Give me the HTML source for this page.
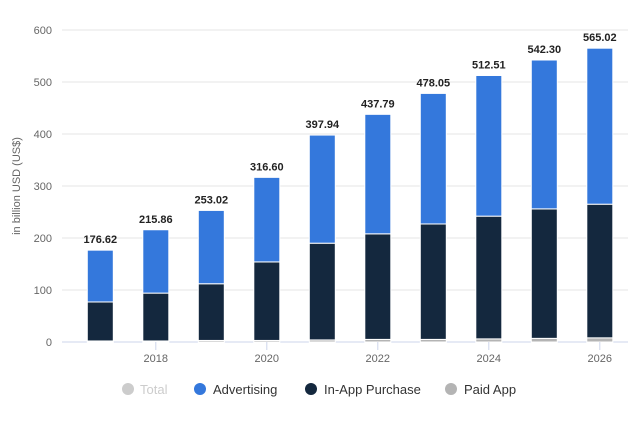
<!DOCTYPE html>
<html><head><meta charset="utf-8"><style>
html,body{margin:0;padding:0;background:#fff;}
svg{display:block;font-family:"Liberation Sans",sans-serif;}
</style></head><body>
<svg id="chart" width="644" height="432">
<g id="grid"></g>
<g id="ylabels"></g>
<text x="20" y="186" font-size="11" fill="#666" text-anchor="middle" transform="rotate(-90 20 186)">in billion USD (US$)</text>
<g id="bars"></g>
<g id="xlabels"></g>
<g id="totals"></g>
<g>
<g><circle cx="128" cy="389" r="6" fill="#ccc"/><text x="140" y="394" font-size="13" fill="#ccc">Total</text></g>
<g><circle cx="200" cy="389" r="6" fill="#3478dc"/><text x="213" y="394" font-size="13" fill="#333">Advertising</text></g>
<g><circle cx="311" cy="389" r="6" fill="#14283e"/><text x="324" y="394" font-size="13" fill="#333">In-App Purchase</text></g>
<g><circle cx="451" cy="389" r="6" fill="#b4b4b4"/><text x="464" y="394" font-size="13" fill="#333">Paid App</text></g>
</g>
</svg>
<script>
const years=[2017,2018,2019,2020,2021,2022,2023,2024,2025,2026];
const totals=[176.62,215.86,253.02,316.60,397.94,437.79,478.05,512.51,542.30,565.02];
const paidApp=[2,2,3,3,4,5,5,6,7,8];
const inApp=[75,92,109,151,186,203,222,236,249,257];
const yTicks=[0,100,200,300,400,500,600];
const xTickLabels=[2018,2020,2022,2024,2026];
const NS="http://www.w3.org/2000/svg";
const y0=342,yTop=30;
const yS=v=>y0-v*(y0-yTop)/600;
const xS=yr=>100.3+(yr-2017)*55.5;
const bw=26;
function mk(tag,attrs,parent){const e=document.createElementNS(NS,tag);for(const k in attrs)e.setAttribute(k,attrs[k]);parent.appendChild(e);return e;}
const grid=document.getElementById('grid'),yl=document.getElementById('ylabels');
yTicks.forEach(t=>{
 const l=mk('line',{x1:62,x2:628,y1:yS(t),y2:yS(t),stroke:t===0?'#ccd6eb':'#e6e6e6','stroke-width':1},grid);
 
 
 const tx=mk('text',{x:52,y:yS(t)+4,'font-size':11,fill:'#666','text-anchor':'end'},yl);
 tx.textContent=t;
 
 
});
const bars=document.getElementById('bars'),tot=document.getElementById('totals'),xl=document.getElementById('xlabels');
years.forEach((yr,i)=>{
 const cx=xS(yr),x=cx-bw/2;
 const segs=[[0,paidApp[i],'#b4b4b4','bar-paid-app'],[paidApp[i],paidApp[i]+inApp[i],'#14283e','bar-in-app-purchase'],[paidApp[i]+inApp[i],totals[i],'#3478dc','bar-advertising']];
 segs.forEach(s=>{
  const r=mk('rect',{x:x,y:yS(s[1]),width:bw,height:yS(s[0])-yS(s[1]),fill:s[2],stroke:'#fff','stroke-width':1},bars);
  
  
 });
 const t=mk('text',{x:cx,y:yS(totals[i])-7,'font-size':11,'font-weight':'bold',fill:'#222','text-anchor':'middle'},tot);
 t.textContent=totals[i].toFixed(2);
 
 
});
xTickLabels.forEach(yr=>{
 const tk=mk('line',{x1:xS(yr),x2:xS(yr),y1:y0,y2:y0+8,stroke:'#ccd6eb'},xl);
 
 
 const t=mk('text',{x:xS(yr),y:y0+20,'font-size':11,fill:'#666','text-anchor':'middle'},xl);
 t.textContent=yr;
 
 
});
</script>
</body></html>
